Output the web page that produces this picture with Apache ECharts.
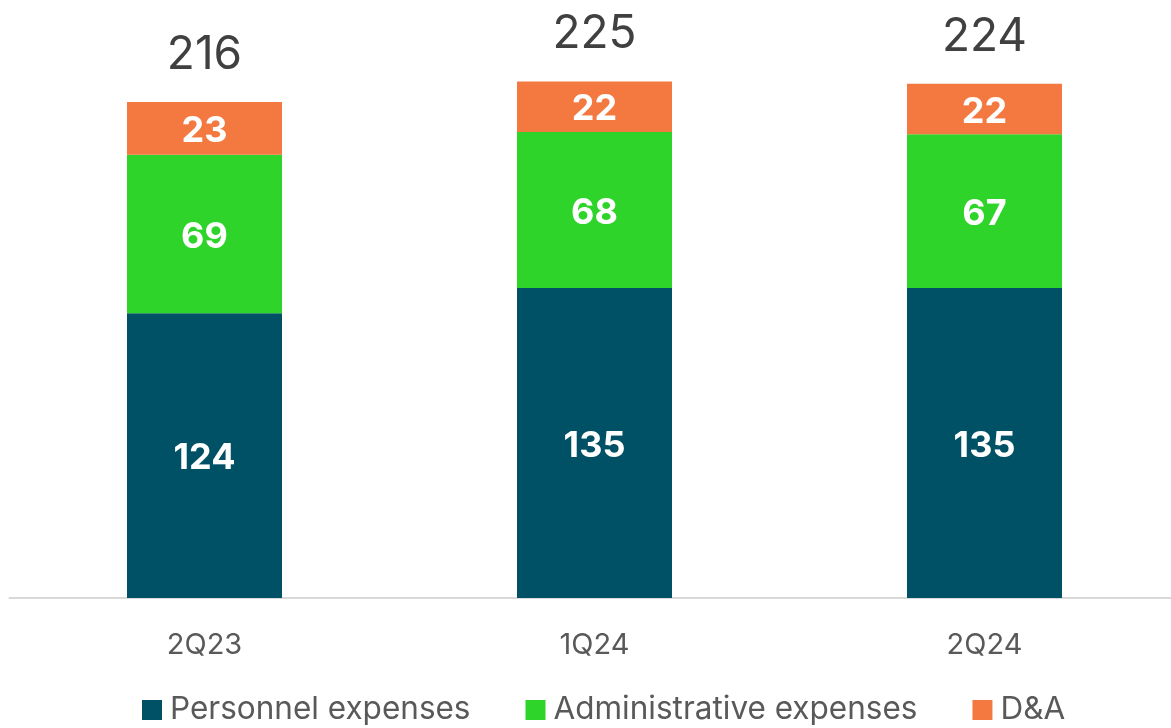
<!DOCTYPE html>
<html>
<head>
<meta charset="utf-8">
<script src="https://cdn.jsdelivr.net/npm/echarts@6/dist/echarts.min.js"></script>
<style>
  html, body { margin: 0; padding: 0; background: #fff; }
  #chart { width: 1171px; height: 728px; }
</style>
</head>
<body>
<div id="chart"></div>
<script>
// data
const categories = ['2Q23', '1Q24', '2Q24']
const personnel = [124, 135, 135]
const administrative = [69, 68, 67]
const dna = [23, 22, 22]
const totals = [216, 225, 224]

const FONT = 'Inter'
const chart = echarts.init(document.getElementById('chart'))

const innerLabel = {
    show: true,
    position: 'inside',
    offset: [0, 3],
    color: '#fff',
    fontFamily: FONT,
    fontSize: 36,
    fontWeight: 'bold'
}

chart.setOption({
    animation: false,
    grid: { left: 9.5, top: 24, width: 1170, height: 574, outerBoundsMode: 'none', containLabel: false },
    legend: {
        bottom: 2,
        left: 142,
        padding: 0,
        data: ['Personnel expenses', 'Administrative expenses', 'D&A'],
        icon: 'rect',
        itemWidth: 20,
        itemHeight: 20,
        itemGap: 55,
        textStyle: { fontFamily: FONT, fontSize: 31.5, color: '#595959', padding: [0, 0, 0, 3] }
    },
    xAxis: {
        type: 'category',
        data: categories,
        axisLine: { lineStyle: { color: '#d9d9d9', width: 2 } },
        axisTick: { show: false },
        axisLabel: { fontFamily: FONT, fontSize: 29, color: '#595959', margin: 33 }
    },
    yAxis: {
        type: 'value',
        min: 0,
        max: 250,
        show: false,
        splitLine: { show: false }
    },
    series: [
        {
            name: 'Personnel expenses',
            type: 'bar',
            stack: 'opex',
            barWidth: 155,
            data: personnel,
            itemStyle: { color: '#005166' },
            label: innerLabel
        },
        {
            name: 'Administrative expenses',
            type: 'bar',
            stack: 'opex',
            data: administrative,
            itemStyle: { color: '#2ed42a' },
            label: innerLabel
        },
        {
            name: 'D&A',
            type: 'bar',
            stack: 'opex',
            data: dna,
            itemStyle: { color: '#f47940' },
            label: innerLabel
        },
        {
            // invisible bar just to place the totals on top
            name: 'Total',
            type: 'bar',
            barGap: '-100%',
            barWidth: 155,
            data: totals,
            z: 1,
            itemStyle: { color: 'transparent' },
            label: {
                show: true,
                position: 'top',
                distance: 24,
                color: '#404040',
                fontFamily: FONT,
                fontSize: 46
            },
            silent: true
        }
    ]
})
</script>
</body>
</html>
